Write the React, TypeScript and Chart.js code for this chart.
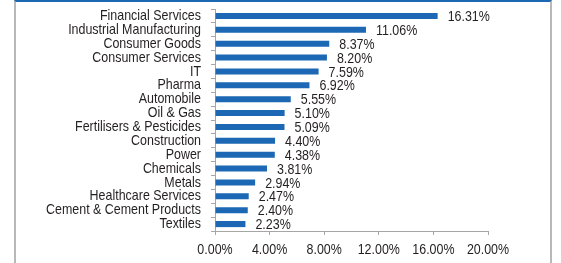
import React, { useEffect, useRef } from "react";
import { Chart, registerables } from "chart.js";

Chart.register(...registerables);

const categories: string[] = [
  "Financial Services",
  "Industrial Manufacturing",
  "Consumer Goods",
  "Consumer Services",
  "IT",
  "Pharma",
  "Automobile",
  "Oil & Gas",
  "Fertilisers & Pesticides",
  "Construction",
  "Power",
  "Chemicals",
  "Metals",
  "Healthcare Services",
  "Cement & Cement Products",
  "Textiles",
];

const values: number[] = [
  16.31, 11.06, 8.37, 8.2, 7.59, 6.92, 5.55, 5.1, 5.09, 4.4, 4.38, 3.81, 2.94, 2.47, 2.4, 2.23,
];

const xTicks: number[] = [0, 4, 8, 12, 16, 20];

const FONT = "'Liberation Sans', Arial, sans-serif";
const SQUEEZE = 0.83;
const BLUE = "#1c68b4";
const TEXT = "#231f20";
const AXIS = "#a6a6a6";

function narrowText(ctx: CanvasRenderingContext2D, text: string, x: number, y: number, align: CanvasTextAlign) {
  ctx.save();
  ctx.translate(x, y);
  ctx.scale(SQUEEZE, 1);
  ctx.textAlign = align;
  ctx.fillText(text, 0, 0);
  ctx.restore();
}

const narrowLabels = {
  id: "narrowLabels",
  afterDraw(chart: any) {
    const ctx: CanvasRenderingContext2D = chart.ctx;
    const xs = chart.scales.x;
    const ys = chart.scales.y;
    const meta = chart.getDatasetMeta(0);
    ctx.save();
    ctx.font = `15px ${FONT}`;
    ctx.fillStyle = TEXT;
    ctx.textBaseline = "middle";
    // category labels
    categories.forEach((c, i) => {
      narrowText(ctx, c, ys.right - 14, ys.getPixelForValue(i), "right");
    });
    // x tick labels
    xTicks.forEach((v) => {
      narrowText(ctx, v.toFixed(2) + "%", xs.getPixelForValue(v), xs.top + 19, "center");
    });
    // value labels
    meta.data.forEach((bar: any, i: number) => {
      narrowText(ctx, values[i].toFixed(2) + "%", bar.x + 10, bar.y + 1, "left");
    });
    ctx.restore();
  },
};

export default function App() {
  const ref = useRef<HTMLCanvasElement | null>(null);

  useEffect(() => {
    document.body.style.margin = "0";
    if (!ref.current) return;
    const chart = new Chart(ref.current, {
      type: "bar",
      data: {
        labels: categories,
        datasets: [
          {
            data: values,
            backgroundColor: BLUE,
            borderWidth: 0,
            categoryPercentage: 1,
            barPercentage: 0.44,
          },
        ],
      },
      options: {
        indexAxis: "y",
        responsive: false,
        animation: false,
        devicePixelRatio: 1,
        layout: { padding: { left: 0, top: 9, right: 73, bottom: 0 } },
        plugins: {
          legend: { display: false },
          tooltip: { enabled: false },
        },
        scales: {
          x: {
            min: 0,
            max: 20,
            afterBuildTicks: (scale: any) => {
              scale.ticks = xTicks.map((v) => ({ value: v }));
            },
            afterFit: (scale: any) => {
              scale.height = 32;
            },
            ticks: { display: false },
            grid: {
              drawOnChartArea: false,
              drawTicks: true,
              tickLength: 4,
              color: AXIS,
            },
            border: { display: true, color: AXIS, width: 1 },
          },
          y: {
            afterFit: (scale: any) => {
              scale.width = 215;
            },
            ticks: { display: false, autoSkip: false },
            grid: {
              offset: true,
              drawOnChartArea: false,
              drawTicks: true,
              tickLength: 4,
              color: AXIS,
            },
            border: { display: true, color: AXIS, width: 1 },
          },
        },
      },
      plugins: [narrowLabels],
    });
    return () => chart.destroy();
  }, []);

  return (
    <div style={{ position: "relative", width: 561, height: 263, overflow: "hidden", background: "#fff" }}>
      <div
        style={{
          position: "absolute",
          left: 14,
          top: 0,
          width: 538,
          height: 280,
          boxSizing: "border-box",
          borderLeft: "2px solid #b8b8b8",
          borderRight: "2px solid #b8b8b8",
          borderTop: `2px solid ${BLUE}`,
          pointerEvents: "none",
        }}
      />
      <canvas ref={ref} width={561} height={263} style={{ position: "absolute", left: 0, top: 0, display: "block" }} />
    </div>
  );
}
